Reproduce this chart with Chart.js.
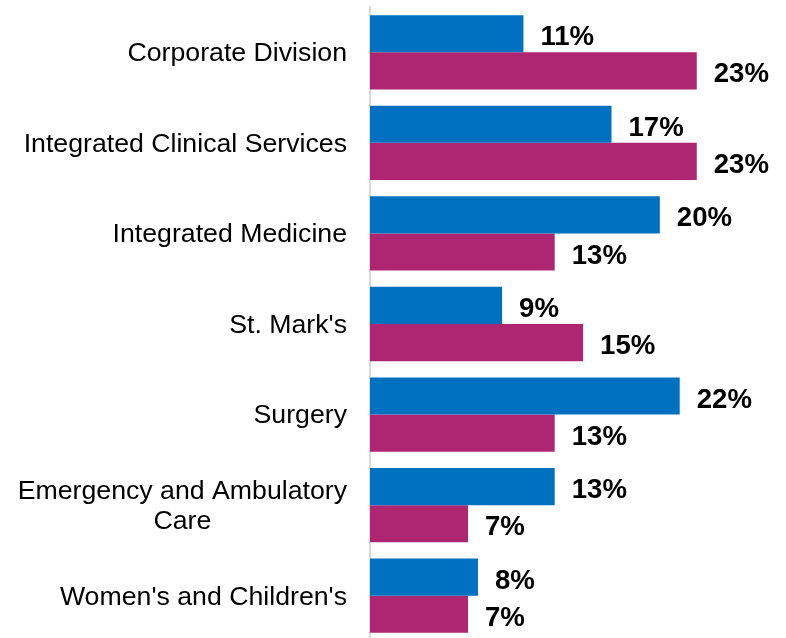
<!DOCTYPE html>
<html>
<head>
<meta charset="utf-8">
<script src="https://cdn.jsdelivr.net/npm/chart.js@4/dist/chart.umd.min.js"></script>
<style>
html,body{margin:0;padding:0;background:#fff;overflow:hidden;}
#wrap{position:relative;width:786px;height:641px;}
</style>
</head>
<body>
<div id="wrap"><canvas id="c"></canvas></div>
<script>
const categories = [
  "Corporate Division",
  ["Integrated Clinical Services"],
  "Integrated Medicine",
  "St. Mark's",
  "Surgery",
  ["Emergency and Ambulatory", "Care"],
  "Women's and Children's"
];
const seriesA = [10.8, 17.0, 20.4, 9.3, 21.8, 13.0, 7.6];
const seriesB = [23.0, 23.0, 13.0, 15.0, 13.0, 6.9, 6.9];
const seriesNames = ["Series 1", "Series 2"];
const colors = ["#0070C0", "#AE2572"];

const FONT = "Arial, 'Liberation Sans', sans-serif";

const labelPlugin = {
  id: 'customLabels',
  afterDatasetsDraw(chart) {
    const ctx = chart.ctx;
    ctx.save();
    // value labels
    ctx.font = "bold 27.6px " + FONT;
    ctx.fillStyle = "#000";
    ctx.textAlign = "left";
    ctx.textBaseline = "middle";
    chart.data.datasets.forEach((ds, di) => {
      const meta = chart.getDatasetMeta(di);
      meta.data.forEach((bar, i) => {
        ctx.fillText(Math.round(ds.data[i]) + "%", bar.x + 17, bar.y + 4);
      });
    });
    // category labels
    const y = chart.scales.y;
    const rightEdge = 347;
    ctx.font = "26.7px " + FONT;
    ctx.textBaseline = "middle";
    ctx.textAlign = "center";
    categories.forEach((lab, i) => {
      const lines = Array.isArray(lab) ? lab : [lab];
      const widths = lines.map(l => ctx.measureText(l).width);
      const maxW = Math.max(...widths);
      const cx = rightEdge - maxW / 2;
      const lh = 30;
      const yc = y.getPixelForValue(i) + 1.5;
      const start = yc - (lines.length - 1) * lh / 2;
      lines.forEach((l, k) => ctx.fillText(l, cx, start + k * lh));
    });
    ctx.restore();
  }
};

new Chart(document.getElementById('c'), {
  type: 'bar',
  data: {
    labels: categories.map(l => Array.isArray(l) ? l.join(' ') : l),
    datasets: [
      { label: seriesNames[0], data: seriesA, backgroundColor: colors[0] },
      { label: seriesNames[1], data: seriesB, backgroundColor: colors[1] }
    ]
  },
  options: {
    indexAxis: 'y',
    responsive: true,
    maintainAspectRatio: false,
    animation: false,
    layout: { padding: { top: 7, right: 4, bottom: 0, left: 0 } },
    datasets: { bar: { categoryPercentage: 0.82, barPercentage: 1.0 } },
    plugins: { legend: { display: false }, tooltip: { enabled: false } },
    scales: {
      x: { display: false, min: 0, max: 29 },
      y: {
        grid: { display: false, drawTicks: false },
        border: { display: true, color: '#D9D9D9', width: 2 },
        ticks: { display: false },
        afterFit(scale) { scale.width = 370; }
      }
    }
  },
  plugins: [labelPlugin]
});
</script>
</body>
</html>
